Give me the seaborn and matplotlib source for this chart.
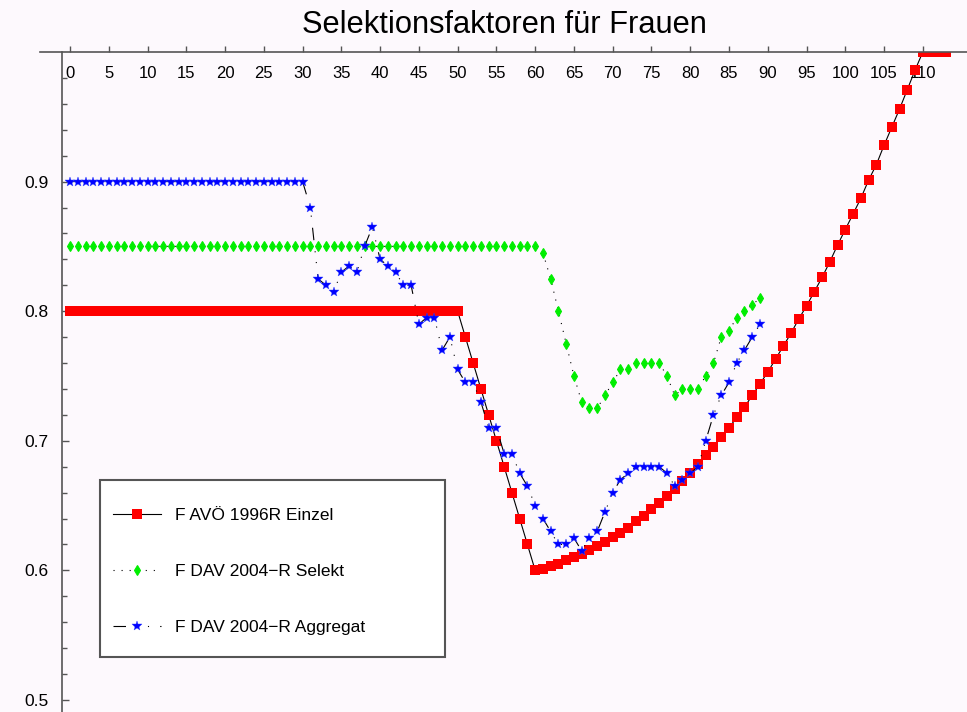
import numpy as np
import matplotlib
matplotlib.use("Agg")
import matplotlib.pyplot as plt
from matplotlib.patches import Rectangle
import seaborn as sns

# Werte
ages_einzel = list(range(0, 114))
einzel = ([0.8] * 51
          + [0.78, 0.76, 0.74, 0.72, 0.70, 0.68, 0.66, 0.64, 0.62,
             0.600, 0.601, 0.603, 0.605, 0.608, 0.610, 0.613, 0.616, 0.619, 0.622,
             0.626, 0.629, 0.633, 0.638, 0.642, 0.647, 0.652, 0.657, 0.663, 0.669,
             0.675, 0.682, 0.689, 0.695, 0.703, 0.710, 0.718, 0.726, 0.735, 0.744,
             0.753, 0.763, 0.773, 0.783, 0.794, 0.804, 0.815, 0.826, 0.838, 0.851,
             0.863, 0.875, 0.887, 0.901, 0.913, 0.928, 0.942, 0.956, 0.971, 0.986]
          + [1.0] * 4)

ages_dav = list(range(0, 90))
selekt = ([0.85] * 61
          + [0.845, 0.825, 0.80, 0.775, 0.75, 0.73, 0.725, 0.725, 0.735,
             0.745, 0.755, 0.755, 0.76, 0.76, 0.76, 0.76, 0.75, 0.735, 0.74,
             0.74, 0.74, 0.75, 0.76, 0.78, 0.785, 0.795, 0.80, 0.805, 0.81])
aggregat = ([0.9] * 31
            + [0.88, 0.825, 0.82, 0.815, 0.83, 0.835, 0.83, 0.85, 0.865,
               0.84, 0.835, 0.83, 0.82, 0.82, 0.79, 0.795, 0.795, 0.77, 0.78,
               0.755, 0.745, 0.745, 0.73, 0.71, 0.71, 0.69, 0.69, 0.675, 0.665,
               0.65, 0.64, 0.63, 0.62, 0.62, 0.625, 0.615, 0.625, 0.63, 0.645,
               0.66, 0.67, 0.675, 0.68, 0.68, 0.68, 0.68, 0.675, 0.665, 0.67,
               0.675, 0.68, 0.70, 0.72, 0.735, 0.745, 0.76, 0.77, 0.78, 0.79])

x_ticks = list(range(0, 115, 5))
y_major = [0.5, 0.6, 0.7, 0.8, 0.9]
y_minor = [0.52, 0.54, 0.56, 0.58, 0.62, 0.64, 0.66, 0.68, 0.72, 0.74, 0.76, 0.78,
           0.82, 0.84, 0.86, 0.88, 0.92, 0.94, 0.96, 0.98]

BG = "#fdf9fd"
AXC = "#555555"

plt.rcParams["font.family"] = ["Liberation Sans", "DejaVu Sans"]
plt.rcParams["lines.scale_dashes"] = False

fig = plt.figure(figsize=(9.67, 7.12), dpi=100, facecolor=BG)
ax = fig.add_axes([40 / 967, 0, 927 / 967, 660 / 712])
ax.set_facecolor(BG)

sns.lineplot(x=ages_einzel, y=einzel, ax=ax, color="black", lw=0.8, linestyle="-",
             marker="s", markersize=6.6, markerfacecolor="#ff0000",
             markeredgecolor="#ff0000", markeredgewidth=0,
             label="F AVÖ 1996R Einzel", estimator=None, sort=False)
sns.lineplot(x=ages_dav, y=selekt, ax=ax, color="black", lw=0.8,
             linestyle=(0, (0.8, 5)),
             marker="d", markersize=5.6, markerfacecolor="#00ee00",
             markeredgecolor="#00ee00", markeredgewidth=0.8,
             label="F DAV 2004\u2212R Selekt", estimator=None, sort=False)
sns.lineplot(x=ages_dav, y=aggregat, ax=ax, color="black", lw=0.8,
             linestyle=(0, (9, 8, 0.8, 7, 0.8, 8)),
             marker="*", markersize=7, markerfacecolor="#0000ff",
             markeredgecolor="#3344ff", markeredgewidth=0.3,
             label="F DAV 2004\u2212R Aggregat", estimator=None, sort=False)

ax.set_xlim(-3.87, 115.7)
ax.set_ylim(0.4907, 1.0)
ax.set_xlabel("")
ax.set_ylabel("")

for s in ["right", "bottom"]:
    ax.spines[s].set_visible(False)
ax.spines["left"].set_position(("data", -1))
for s in ["left", "top"]:
    ax.spines[s].set_color(AXC)
    ax.spines[s].set_linewidth(1.2)

ax.xaxis.set_ticks_position("top")
ax.set_xticks(x_ticks)
ax.set_xticklabels([str(v) for v in x_ticks])
ax.tick_params(axis="x", direction="out", length=4, width=1, color=AXC,
               labelsize=12, pad=-25, top=True, bottom=False,
               labeltop=True, labelbottom=False)

ax.set_yticks(y_major)
ax.set_yticklabels([f"{v:.1f}" for v in y_major])
ax.set_yticks(y_minor, minor=True)
ax.tick_params(axis="y", which="major", direction="in", length=5, width=1,
               color=AXC, labelsize=12.5, pad=10)
ax.tick_params(axis="y", which="minor", direction="in", length=3.5, width=1,
               color=AXC)

# Legendenrahmen
box = Rectangle((100 / 967, 1 - 657 / 712), 345 / 967, 177 / 712,
                transform=fig.transFigure, facecolor="white",
                edgecolor=AXC, lw=1.5, zorder=5, clip_on=False)
ax.add_patch(box)
handles, labels = ax.get_legend_handles_labels()
leg = ax.legend(handles, labels, loc="upper left",
                bbox_to_anchor=(113 / 967, 1 - 508 / 712),
                bbox_transform=fig.transFigure, frameon=False,
                borderpad=0, borderaxespad=0, handlelength=2.76,
                handletextpad=0.8, labelspacing=2.36, fontsize=12.5)
leg.set_zorder(6)

fig.text(504.5 / 967, 1 - 25 / 712, "Selektionsfaktoren für Frauen",
         ha="center", va="center", fontsize=22.2)

fig.savefig("out.png", dpi=100, facecolor=BG)
